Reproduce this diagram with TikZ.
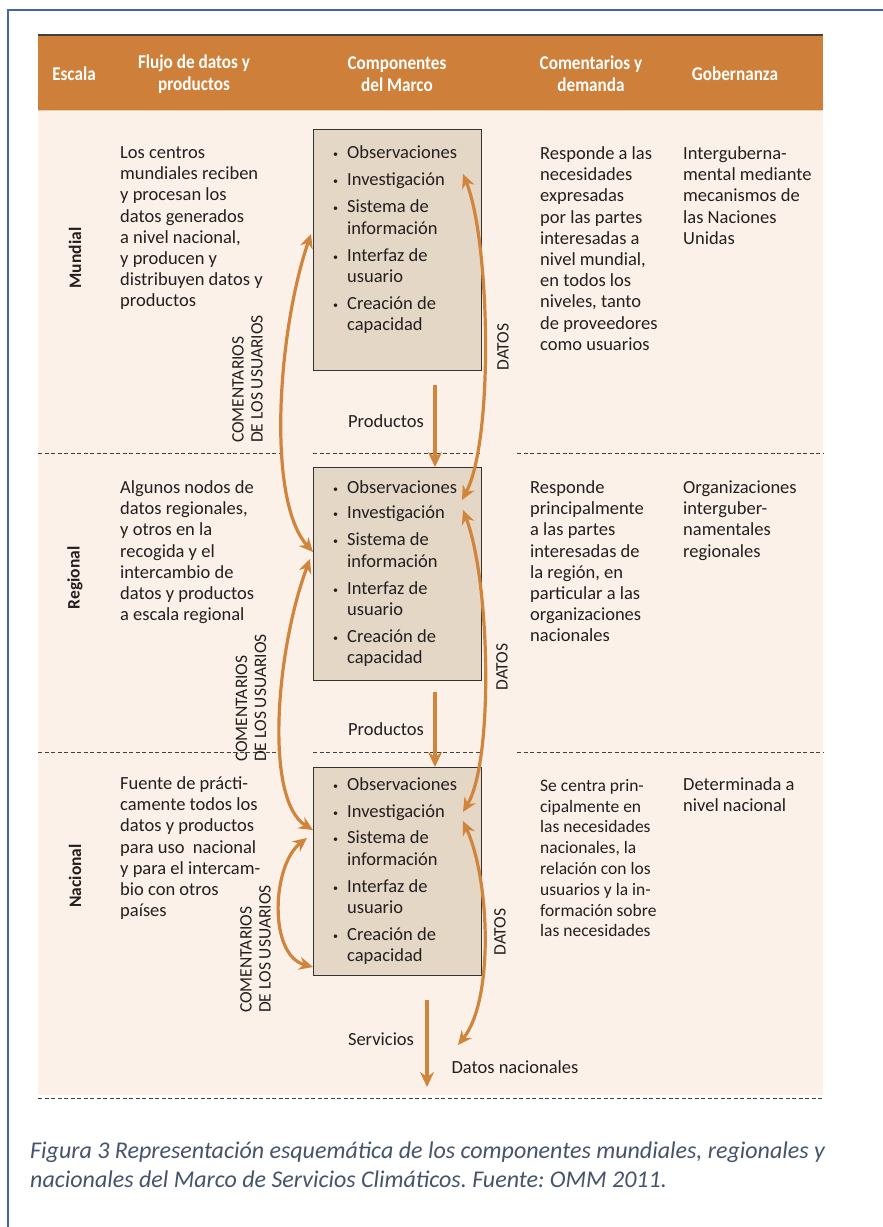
\documentclass[tikz,border=0pt]{standalone}
\usepackage{fontspec}
\setmainfont{Carlito}
\newfontfamily\hdrfont[FakeStretch=0.88]{Carlito}
\usetikzlibrary{arrows.meta}
\frenchspacing
\definecolor{hdrc}{RGB}{206,128,58}
\definecolor{creamc}{RGB}{251,241,232}
\definecolor{boxc}{RGB}{229,215,198}
\definecolor{arrc}{RGB}{209,132,60}
\definecolor{framec}{RGB}{68,100,170}
\definecolor{capc}{RGB}{68,84,106}
\definecolor{txtc}{RGB}{35,31,32}
\newcommand\itembul{\makebox[14pt][l]{\raisebox{1pt}{\fontsize{10}{10}\selectfont\textbullet}}}
\newcommand\itemind{\hspace*{14pt}}
\begin{document}
\begin{tikzpicture}[x=1pt,y=-1pt,
  hd/.style={font=\hdrfont\bfseries\fontsize{19.5}{22}\selectfont, text=white, align=center, inner sep=0},
  sc/.style={font=\bfseries\fontsize{17.5}{20}\selectfont, text=txtc, rotate=90, inner sep=0},
  bt/.style={font=\fontsize{18.5}{21.2}\selectfont, text=txtc, align=left, anchor=north west, inner sep=0},
  bts/.style={font=\fontsize{17.5}{20.8}\selectfont, text=txtc, align=left, anchor=north west, inner sep=0},
  lbl/.style={font=\fontsize{18.5}{21.2}\selectfont, text=txtc, inner sep=0},
  cu/.style={font=\fontsize{17.5}{19}\selectfont, text=txtc, rotate=90, align=left, anchor=west, inner sep=0},
  dt/.style={font=\fontsize{17.5}{19}\selectfont, text=txtc, rotate=90, inner sep=0},
  boxst/.style={draw=black!80, line width=1.3pt, fill=boxc, inner sep=0, anchor=north west, minimum width=168pt},
  sepline/.style={draw=black!75, line width=0.8pt, dash pattern=on 4pt off 2.5pt},
  arrS/.style={draw=arrc, line width=4pt, -{Stealth[length=15pt,width=14pt]}},
  arrC/.style={draw=arrc, line width=3.2pt, {Stealth[length=14pt,width=13pt]}-{Stealth[length=14pt,width=13pt]}}
]
\useasboundingbox (0,0) rectangle (883,1227);
\fill[white] (0,0) rectangle (883,1227);
% outer frame
\draw[framec, line width=2pt] (8,1227) -- (8,10) -- (883,10);
% table background
\fill[creamc] (38,110) rectangle (823,1095);
\fill[hdrc] (38,35) rectangle (823,110);
\draw[black!75, line width=2pt] (38,35) -- (823,35);
\draw[hdrc!40!white, line width=1pt] (38,110) -- (823,110);
% separators
\draw[sepline] (38,453) -- (280,453);
\draw[sepline] (313,453) -- (481,453);
\draw[sepline] (517,453) -- (823,453);
\draw[sepline] (38,752) -- (280,752);
\draw[sepline] (313,752) -- (481,752);
\draw[sepline] (517,752) -- (823,752);
\draw[sepline] (38,1098) -- (823,1098);
% header
\node[hd] (hEsc) at (74,74) {Escala};
\node[hd] (hFlu) at (194,74) {Flujo de datos y\\productos};
\node[hd] (hCom) at (397,74) {Componentes\\del Marco};
\node[hd] (hDem) at (591,74) {Comentarios y\\demanda};
\node[hd] (hGob) at (735,74) {Gobernanza};
% scale labels
\node[sc] (sM) at (75,258) {Mundial};
\node[sc] (sR) at (75,578) {Regional};
\node[sc] (sN) at (75,876) {Nacional};
% flow texts
\node[bt] (fM) at (120,146.5) {Los centros\\mundiales reciben\\y procesan los\\datos generados\\a nivel nacional,\\y producen y\\distribuyen datos y\\productos};
\node[bt] (fR) at (120,480.5) {Algunos nodos de\\datos regionales,\\y otros en la\\recogida y el\\intercambio de\\datos y productos\\a escala regional};
\node[bt] (fN) at (120,776.5) {Fuente de prácti-\\camente todos los\\datos y productos\\para uso\ \ nacional\\y para el intercam-\\bio con otros\\países};
% boxes
\node[boxst, minimum height=241pt] (bM) at (313,129) {};
\node[boxst, minimum height=213pt] (bR) at (313,467) {};
\node[boxst, minimum height=208pt] (bN) at (313,767) {};
\node[bt] (iM) at (333,145.5) {\itembul Observaciones\\[6pt]\itembul Investigación\\[6pt]\itembul Sistema de\\\itemind información\\[6pt]\itembul Interfaz de\\\itemind usuario\\[6pt]\itembul Creación de\\\itemind capacidad};
\node[bt] (iR) at (333,480.5) {\itembul Observaciones\\[4pt]\itembul Investigación\\[6pt]\itembul Sistema de\\\itemind información\\[6pt]\itembul Interfaz de\\\itemind usuario\\[6pt]\itembul Creación de\\\itemind capacidad};
\node[bt] (iN) at (333,777.5) {\itembul Observaciones\\[6pt]\itembul Investigación\\[5pt]\itembul Sistema de\\\itemind información\\[6pt]\itembul Interfaz de\\\itemind usuario\\[6pt]\itembul Creación de\\\itemind capacidad};
% demand texts
\node[bt] (cM) at (540,146.5) {Responde a las\\necesidades\\expresadas\\por las partes\\interesadas a\\nivel mundial,\\en todos los\\niveles, tanto\\de proveedores\\como usuarios};
\node[bt] (cR) at (530,480.5) {Responde\\principalmente\\a las partes\\interesadas de\\la región, en\\particular a las\\organizaciones\\nacionales};
\node[bts] (cN) at (540,779) {Se centra prin-\\cipalmente en\\las necesidades\\nacionales, la\\relación con los\\usuarios y la in-\\formación sobre\\las necesidades};
% governance
\node[bt] (gM) at (683,146.5) {Interguberna-\\mental mediante\\mecanismos de\\las Naciones\\Unidas};
\node[bt] (gR) at (683,480.5) {Organizaciones\\interguber-\\namentales\\regionales};
\node[bt] (gN) at (683,777.5) {Determinada a\\nivel nacional};
% labels
\node[lbl] (pM) at (386,421) {Productos};
\node[lbl] (pR) at (386,729) {Productos};
\node[lbl] (sv) at (381,1039) {Servicios};
\node[lbl] (dn) at (515,1067) {Datos nacionales};
\node[cu] (uM) at (247.5,443) {COMENTARIOS\\DE LOS USUARIOS};
\node[cu] (uR) at (251,762) {COMENTARIOS\\DE LOS USUARIOS};
\node[cu] (uN) at (255.5,1013) {COMENTARIOS\\DE LOS USUARIOS};
\node[dt] (dM) at (503,347) {DATOS};
\node[dt] (dR) at (502,667) {DATOS};
\node[dt] (dN) at (500,932) {DATOS};
% arrow end points
\coordinate (p1s) at (435,385);
\coordinate (p2s) at (435,692);
\coordinate (sv1) at (427,1000);
\coordinate (sv2) at (427,1087);
\coordinate (lA1) at (311,234);
\coordinate (lB1) at (313,552);
\coordinate (lA2) at (310,559);
\coordinate (lB2) at (313,830);
\coordinate (lA3) at (307,838);
\coordinate (lB3) at (313,967);
\coordinate (rA1) at (463,174);
\coordinate (rB1) at (462,500);
\coordinate (rA2) at (463,510);
\coordinate (rB2) at (463,812);
\coordinate (rA3) at (463,821);
\coordinate (rB3) at (458,1045);
% straight arrows
\draw[arrS] (p1s) -- (p1s |- bR.north);
\draw[arrS] (p2s) -- (p2s |- bN.north);
\draw[arrS] (sv1) -- (sv2);
% curved arrows
\draw[arrC] (lA1) .. controls (278,330) and (266,500) .. (lB1);
\draw[arrC] (lA2) .. controls (276,650) and (264,800) .. (lB2);
\draw[arrC] (lA3) .. controls (272,865) and (268,955) .. (lB3);
\draw[arrC] (rA1) .. controls (490,240) and (494,440) .. (rB1);
\draw[arrC] (rA2) .. controls (490,580) and (494,760) .. (rB2);
\draw[arrC] (rA3) .. controls (490,880) and (494,1000) .. (rB3);
% caption
\node[font=\itshape\fontsize{24}{29}\selectfont, text=capc, align=left, anchor=north west, inner sep=0] (cap) at (30,1142) {Figura 3 Representación esquemática de los componentes mundiales, regionales y\\nacionales del Marco de Servicios Climáticos. Fuente: OMM 2011.};
\end{tikzpicture}
\end{document}
